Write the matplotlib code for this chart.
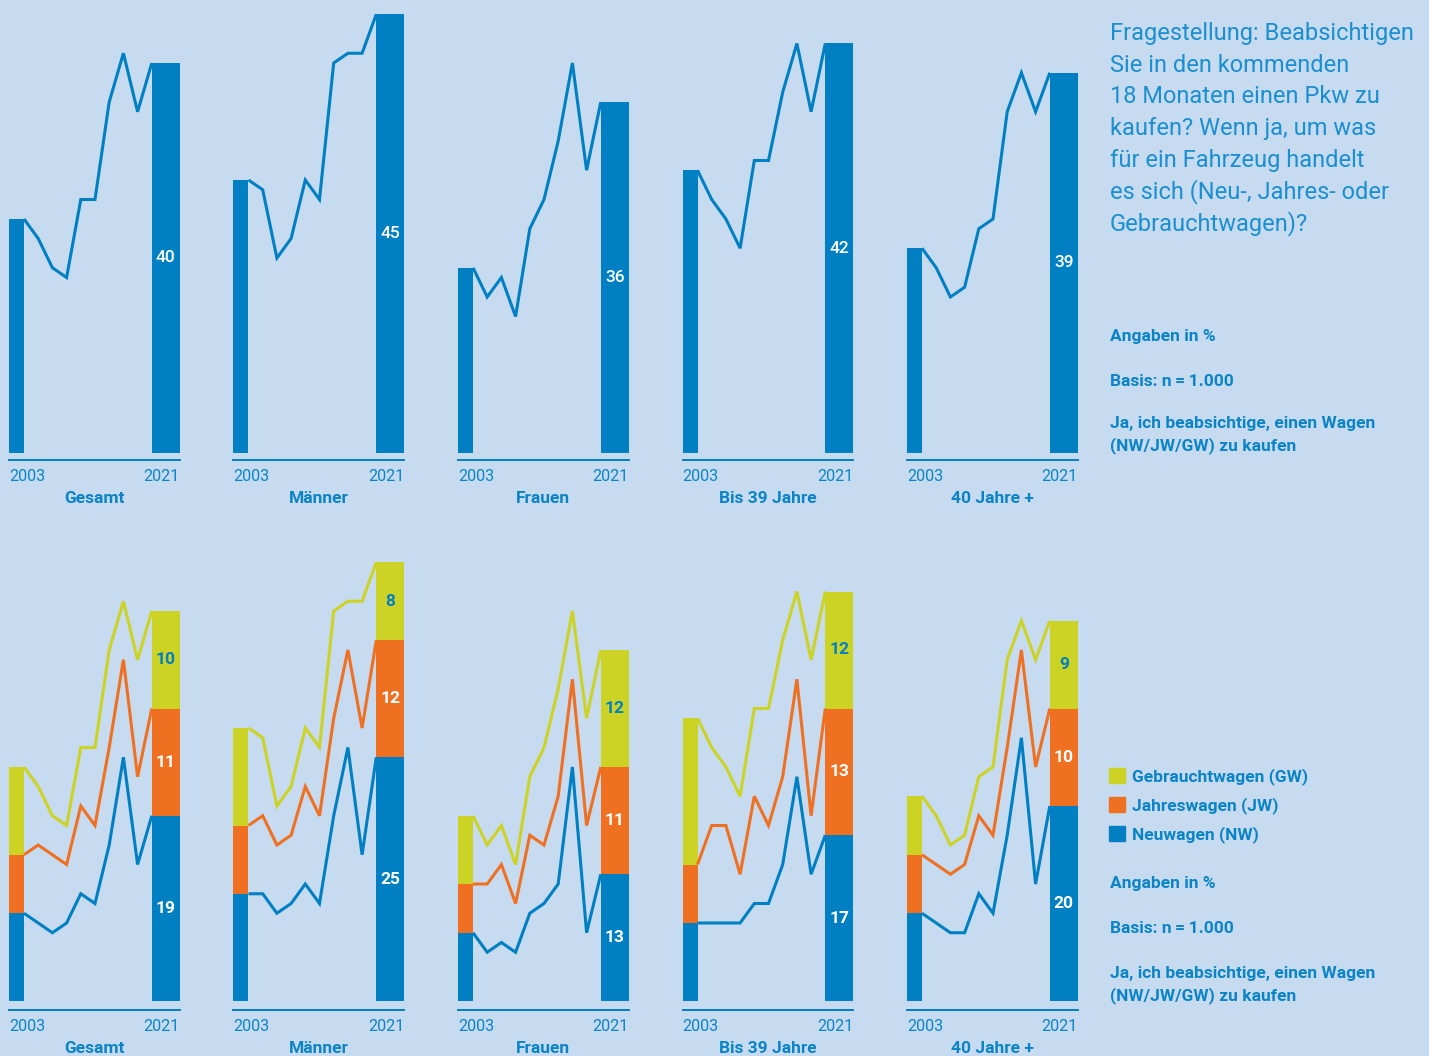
"""Kaufabsicht Pkw 2003-2021: Gesamtwert und Aufteilung nach NW/JW/GW."""

import matplotlib
matplotlib.use('Agg')
from matplotlib import pyplot
from matplotlib.patches import Patch
import numpy


years = [2003, 2005, 2007, 2009, 2011, 2013, 2015, 2017, 2019, 2021]
groups = ['Gesamt', 'Männer', 'Frauen', 'Bis 39 Jahre', '40 Jahre +']

# Neuwagen (NW), Anteile in %
nw_gesamt = [9, 8, 7, 8, 11, 10, 16, 25, 14, 19]
nw_maenner = [11, 11, 9, 10, 12, 10, 19, 26, 15, 25]
nw_frauen = [7, 5, 6, 5, 9, 10, 12, 24, 7, 13]
nw_bis39 = [8, 8, 8, 8, 10, 10, 14, 23, 13, 17]
nw_ab40 = [9, 8, 7, 7, 11, 9, 17, 27, 12, 20]

# Jahreswagen (JW)
jw_gesamt = [6, 8, 8, 6, 9, 8, 10, 10, 9, 11]
jw_maenner = [7, 8, 7, 7, 10, 9, 10, 10, 13, 12]
jw_frauen = [5, 7, 8, 5, 8, 6, 9, 9, 11, 11]
jw_bis39 = [6, 10, 10, 5, 11, 8, 9, 10, 6, 13]
jw_ab40 = [6, 6, 6, 7, 8, 8, 9, 9, 12, 10]

# Gebrauchtwagen (GW)
gw_gesamt = [9, 6, 4, 4, 6, 8, 10, 6, 12, 10]
gw_maenner = [10, 8, 4, 5, 6, 7, 11, 5, 13, 8]
gw_frauen = [7, 4, 4, 4, 6, 10, 11, 7, 11, 12]
gw_bis39 = [15, 8, 6, 8, 9, 12, 14, 9, 16, 12]
gw_ab40 = [6, 5, 3, 3, 4, 7, 9, 3, 11, 9]

nw_all = [nw_gesamt, nw_maenner, nw_frauen, nw_bis39, nw_ab40]
jw_all = [jw_gesamt, jw_maenner, jw_frauen, jw_bis39, jw_ab40]
gw_all = [gw_gesamt, gw_maenner, gw_frauen, gw_bis39, gw_ab40]

question = ['Fragestellung: Beabsichtigen',
            'Sie in den kommenden',
            '18 Monaten einen Pkw zu',
            'kaufen? Wenn ja, um was',
            'für ein Fahrzeug handelt',
            'es sich (Neu-, Jahres- oder',
            'Gebrauchtwagen)?']
notes = ['Angaben in %', 'Basis: n\u2009=\u20091.000',
         'Ja, ich beabsichtige, einen Wagen', '(NW/JW/GW) zu kaufen']
legend_labels = ['Gebrauchtwagen (GW)', 'Jahreswagen (JW)', 'Neuwagen (NW)']

BG = '#c6dbef'
BLUE = '#0080c3'
ORANGE = '#f07022'
YELLOW = '#cdd325'
TEXT = '#0a84c6'
TITLE = '#1b8fd0'

pyplot.rcParams['font.family'] = ['Roboto', 'DejaVu Sans']

W, H = 1429, 1056
fig = pyplot.figure(figsize=(W / 100, H / 100), dpi=100, facecolor=BG)

px_unit = 9.75          # pixels per percentage point
px_step = 14.2          # pixels between survey years
w_first, w_last = 15, 28
ax_width = w_first + 9 * px_step + w_last
x_first = -w_first / px_step
x_last_w = w_last / px_step
xs = numpy.arange(len(years))


def make_axes(i, spine_y, base_y, top_y):
    """Create a panel axes placed in pixel coordinates."""
    x0 = 9 + i * 224.5
    ax = fig.add_axes([x0 / W, (H - spine_y) / H, ax_width / W,
                       (spine_y - top_y) / H])
    ax.set_facecolor('none')
    ax.set_xlim(x_first, 9 + x_last_w)
    ax.set_ylim(-(spine_y - base_y) / px_unit, (base_y - top_y) / px_unit)
    for side in ('top', 'left', 'right'):
        ax.spines[side].set_visible(False)
    ax.spines['bottom'].set_color(BLUE)
    ax.spines['bottom'].set_linewidth(1.4)
    ax.set_xticks([])
    ax.set_yticks([])
    ax.annotate('2003', xy=(x_first, 0), xycoords=('data', 'axes fraction'),
                xytext=(0, -12), textcoords='offset points',
                ha='left', va='center', fontsize=11.6, color=TEXT)
    ax.annotate('2021', xy=(9 + x_last_w, 0),
                xycoords=('data', 'axes fraction'),
                xytext=(0, -12), textcoords='offset points',
                ha='right', va='center', fontsize=11.6, color=TEXT)
    ax.annotate(groups[i], xy=(0.5, 0), xycoords='axes fraction',
                xytext=(0, -27.5), textcoords='offset points',
                ha='center', va='center', fontsize=12.5, fontweight='bold',
                color=TEXT)
    return ax


line_kw = dict(linewidth=2.2, solid_joinstyle='miter', solid_capstyle='butt',
               clip_on=False)

for i in range(len(groups)):
    nw = numpy.array(nw_all[i])
    jw = numpy.array(jw_all[i])
    gw = numpy.array(gw_all[i])
    total = nw + jw + gw

    # Obere Reihe: Gesamtwert
    ax = make_axes(i, 460, 453, 0)
    ax.bar(x_first, total[0], width=-x_first, align='edge', color=BLUE)
    ax.bar(9, total[-1], width=x_last_w, align='edge', color=BLUE)
    ax.plot(xs, total, color=BLUE, **line_kw)
    ax.text(9 + x_last_w / 2, total[-1] / 2, f'{total[-1]}', ha='center',
            va='center', fontsize=12.5, fontweight='medium', color='white')

    # Untere Reihe: gestapelt nach NW/JW/GW
    ax = make_axes(i, 1010, 1001, 548)
    parts = [(nw, BLUE, 'white'), (jw, ORANGE, 'white'), (gw, YELLOW, BLUE)]
    bottom = numpy.zeros(len(years))
    for values, color, label_color in parts:
        top = bottom + values
        ax.bar(x_first, values[0], bottom=bottom[0], width=-x_first,
               align='edge', color=color)
        ax.bar(9, values[-1], bottom=bottom[-1], width=x_last_w,
               align='edge', color=color)
        ax.text(9 + x_last_w / 2, bottom[-1] + values[-1] / 2,
                f'{values[-1]}', ha='center', va='center', fontsize=12.5,
                fontweight='bold', color=label_color)
        bottom = top
    ax.plot(xs, nw + jw + gw, color=YELLOW, **line_kw)
    ax.plot(xs, nw + jw, color=ORANGE, **line_kw)
    ax.plot(xs, nw, color=BLUE, **line_kw)

# Fragestellung rechts oben
for k, line in enumerate(question):
    fig.text(1110 / W, 1 - (40 + k * 31.7) / H, line, ha='left',
             va='baseline', fontsize=17, fontweight='normal', color=TITLE)

# Hinweise
for baselines in ([341, 386, 428, 450], [888, 933, 978, 1000]):
    for text, y in zip(notes, baselines):
        fig.text(1110 / W, 1 - y / H, text, ha='left', va='baseline',
                 fontsize=12.5, fontweight='bold', color=TEXT)

handles = [Patch(color=YELLOW), Patch(color=ORANGE), Patch(color=BLUE)]
leg = fig.legend(handles, legend_labels, loc='upper left',
                 bbox_to_anchor=(1109 / W, 1 - 768 / H), frameon=False,
                 handlelength=0.92, handleheight=0.92, handletextpad=0.4,
                 labelspacing=0.7, borderpad=0, borderaxespad=0,
                 prop=dict(size=12.5, weight='bold'))
for t in leg.get_texts():
    t.set_color(TEXT)

fig.savefig('out.png', dpi=100, facecolor=BG)
